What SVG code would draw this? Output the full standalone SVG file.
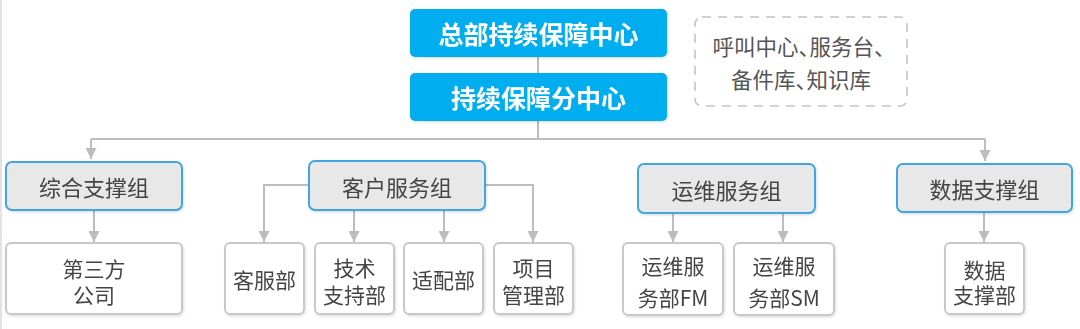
<svg xmlns="http://www.w3.org/2000/svg" width="1080" height="329" viewBox="0 0 1080 329">
<style>
text{font-family:"Noto Sans CJK SC","Noto Sans",sans-serif;text-anchor:middle;dominant-baseline:central}
.top rect{fill:#00aeef}
.top text{fill:#fff;font-size:25px;font-weight:bold}
.grp rect{fill:#e8e8e8;stroke:#3fa6df;stroke-width:2}
.grp text{fill:#444;font-size:22px}
.leaf rect{fill:#fff;stroke:#c8c8c8;stroke-width:2}
.leaf text{fill:#444;font-size:21px}
.note rect{fill:#fff;stroke:#c4c4c4;stroke-width:1.6;stroke-dasharray:9 7}
.note text{fill:#555;font-size:21.5px}
.conn path{fill:none;stroke:#bdbdbd;stroke-width:2}
</style>
<defs>
<marker id="arr" viewBox="0 0 10 10" refX="10" refY="5" markerWidth="11" markerHeight="11" markerUnits="userSpaceOnUse" orient="auto">
<path d="M0,0 L10,5 L0,10 z" fill="#bdbdbd"/>
</marker>
<filter id="sh" x="-10%" y="-10%" width="120%" height="130%">
<feDropShadow dx="1" dy="1.5" stdDeviation="1" flood-color="#000" flood-opacity="0.12"/>
</filter>
</defs>
<line x1="1" y1="0" x2="1" y2="329" stroke="#e2e2e2" stroke-width="2"/>
<g class="conn">
<path d="M538,57 V73"/>
<path d="M538,121 V139"/>
<path d="M91,139 H985" stroke-width="2.5"/>
<path d="M91,139 V159" marker-end="url(#arr)"/>
<path d="M985,139 V161" marker-end="url(#arr)"/>
<path d="M94,210 V242" marker-end="url(#arr)"/>
<path d="M309,185 H264 V242" marker-end="url(#arr)"/>
<path d="M485,185 H533 V242" marker-end="url(#arr)"/>
<path d="M354,210 V242" marker-end="url(#arr)"/>
<path d="M444,210 V242" marker-end="url(#arr)"/>
<path d="M673,213 V242" marker-end="url(#arr)"/>
<path d="M783,213 V242" marker-end="url(#arr)"/>
<path d="M984,212 V242" marker-end="url(#arr)"/>
</g>
<g id="hq" class="top" filter="url(#sh)"><rect x="410" y="9" width="257" height="48" rx="5"/><text x="538.5" y="33">总部持续保障中心</text></g>
<g id="branch" class="top" filter="url(#sh)"><rect x="410" y="73" width="257" height="48" rx="5"/><text x="538.5" y="97">持续保障分中心</text></g>
<g id="note" class="note"><rect x="695" y="17" width="212" height="89" rx="7"/><text x="804" y="45">呼叫中心、<tspan dx="-10.5">服务台、</tspan></text><text x="801" y="78">备件库、<tspan dx="-10.5">知识库</tspan></text></g>
<g id="g1" class="grp" filter="url(#sh)"><rect x="6" y="162" width="176" height="48" rx="6"/><text x="94" y="186">综合支撑组</text></g>
<g id="g2" class="grp" filter="url(#sh)"><rect x="309" y="161" width="176" height="49" rx="6"/><text x="397" y="185.5">客户服务组</text></g>
<g id="g3" class="grp" filter="url(#sh)"><rect x="638" y="164" width="177" height="49" rx="6"/><text x="726.5" y="188.5">运维服务组</text></g>
<g id="g4" class="grp" filter="url(#sh)"><rect x="897" y="164" width="175" height="48" rx="6"/><text x="984.5" y="188">数据支撑组</text></g>
<g id="l1" class="leaf" filter="url(#sh)"><rect x="6" y="243" width="176" height="71" rx="5"/><text x="94" y="268">第三方</text><text x="94" y="294">公司</text></g>
<g id="l2" class="leaf" filter="url(#sh)"><rect x="225" y="243" width="79" height="71" rx="5"/><text x="264.5" y="279">客服部</text></g>
<g id="l3" class="leaf" filter="url(#sh)"><rect x="315" y="243" width="79" height="71" rx="5"/><text x="354.5" y="267">技术</text><text x="354.5" y="294">支持部</text></g>
<g id="l4" class="leaf" filter="url(#sh)"><rect x="404" y="243" width="79" height="71" rx="5"/><text x="443.5" y="279">适配部</text></g>
<g id="l5" class="leaf" filter="url(#sh)"><rect x="494" y="243" width="79" height="71" rx="5"/><text x="533.5" y="267">项目</text><text x="533.5" y="294">管理部</text></g>
<g id="l6" class="leaf" filter="url(#sh)"><rect x="623" y="243" width="100" height="72" rx="5"/><text x="673" y="265">运维服</text><text x="673" y="297">务部FM</text></g>
<g id="l7" class="leaf" filter="url(#sh)"><rect x="734" y="243" width="100" height="72" rx="5"/><text x="784" y="265">运维服</text><text x="784" y="297">务部SM</text></g>
<g id="l8" class="leaf" filter="url(#sh)"><rect x="945" y="243" width="79" height="71" rx="5"/><text x="984.5" y="269">数据</text><text x="984.5" y="294">支撑部</text></g>
</svg>
